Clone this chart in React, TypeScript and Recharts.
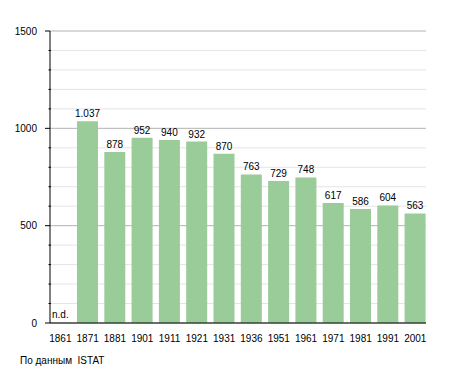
import { BarChart, Bar, XAxis, YAxis, CartesianGrid, LabelList, ReferenceDot } from 'recharts';

const years = ['1861', '1871', '1881', '1901', '1911', '1921', '1931', '1936', '1951', '1961', '1971', '1981', '1991', '2001'];
const population: (number | null)[] = [null, 1037, 878, 952, 940, 932, 870, 763, 729, 748, 617, 586, 604, 563];
const yTicks = [0, 100, 200, 300, 400, 500, 600, 700, 800, 900, 1000, 1100, 1200, 1300, 1400, 1500];
const majorTicks = [0, 500, 1000, 1500];

const FONT = '"Liberation Sans", Arial, sans-serif';
const AXIS_X = 50;

const data = years.map((year, i) => ({ year, value: population[i] }));

function formatValue(v: number): string {
  // italian thousands separator
  if (v >= 1000) {
    const s = String(v);
    return s.slice(0, s.length - 3) + '.' + s.slice(s.length - 3);
  }
  return String(v);
}

function YTick(props: any) {
  const { y, payload } = props;
  const major = majorTicks.includes(payload.value);
  if (!major) {
    return <line x1={AXIS_X - 1.5} x2={AXIS_X + 1} y1={y} y2={y} stroke="#000" strokeWidth={1} />;
  }
  return (
    <g>
      <line x1={AXIS_X - 5} x2={AXIS_X} y1={y} y2={y} stroke="#000" strokeWidth={1} />
      <text x={AXIS_X - 13} y={y} dy="0.35em" textAnchor="end" fontSize={10} fontFamily={FONT} fill="#000">
        {payload.value}
      </text>
    </g>
  );
}

function XTick(props: any) {
  const { x, y, payload } = props;
  return (
    <text x={x} y={y + 11} textAnchor="middle" fontSize={10} fontFamily={FONT} fill="#000">
      {payload.value}
    </text>
  );
}

function GridLine(props: any) {
  const { x1, x2, y1, y2, index } = props;
  const major = index % 5 === 0;
  return <line key={props.key} x1={x1} x2={x2} y1={y1} y2={y2} stroke={major ? '#b4b4b4' : '#e4e4e4'} strokeWidth={1} />;
}

export default function App() {
  return (
    <div style={{ position: 'absolute', left: 0, top: 0, width: 455, height: 373, background: '#fff' }}>
      <BarChart
        width={455}
        height={373}
        data={data}
        margin={{ top: 31, right: 29, bottom: 0, left: 0 }}
        barSize={21}
      >
        <CartesianGrid vertical={false} horizontal={GridLine} />
        <XAxis
          dataKey="year"
          height={50}
          axisLine={{ stroke: '#000' }}
          tickLine={false}
          tick={<XTick />}
          interval={0}
          padding={{ left: -3.3, right: -2.9 }}
        />
        <YAxis
          width={50}
          domain={[0, 1500]}
          ticks={yTicks}
          interval={0}
          axisLine={{ stroke: '#000' }}
          tickLine={false}
          tick={<YTick />}
        />
        <Bar dataKey="value" fill="#99cc99" isAnimationActive={false}>
          <LabelList
            dataKey="value"
            position="top"
            offset={4}
            formatter={(v: any) => (v == null ? '' : formatValue(v))}
            style={{ fontSize: 10, fontFamily: FONT, fill: '#000' }}
          />
        </Bar>
        <ReferenceDot
          x="1861"
          y={0}
          r={0}
          ifOverflow="visible"
          label={(p: any) => (
            <text x={AXIS_X + 2} y={318} fontSize={10} fontFamily={FONT} fill="#000">
              n.d.
            </text>
          )}
        />
      </BarChart>
      <div style={{ position: 'absolute', left: 20, top: 355, fontSize: 10, fontFamily: FONT, color: '#000', whiteSpace: 'pre' }}>
        По данным  ISTAT
      </div>
    </div>
  );
}
